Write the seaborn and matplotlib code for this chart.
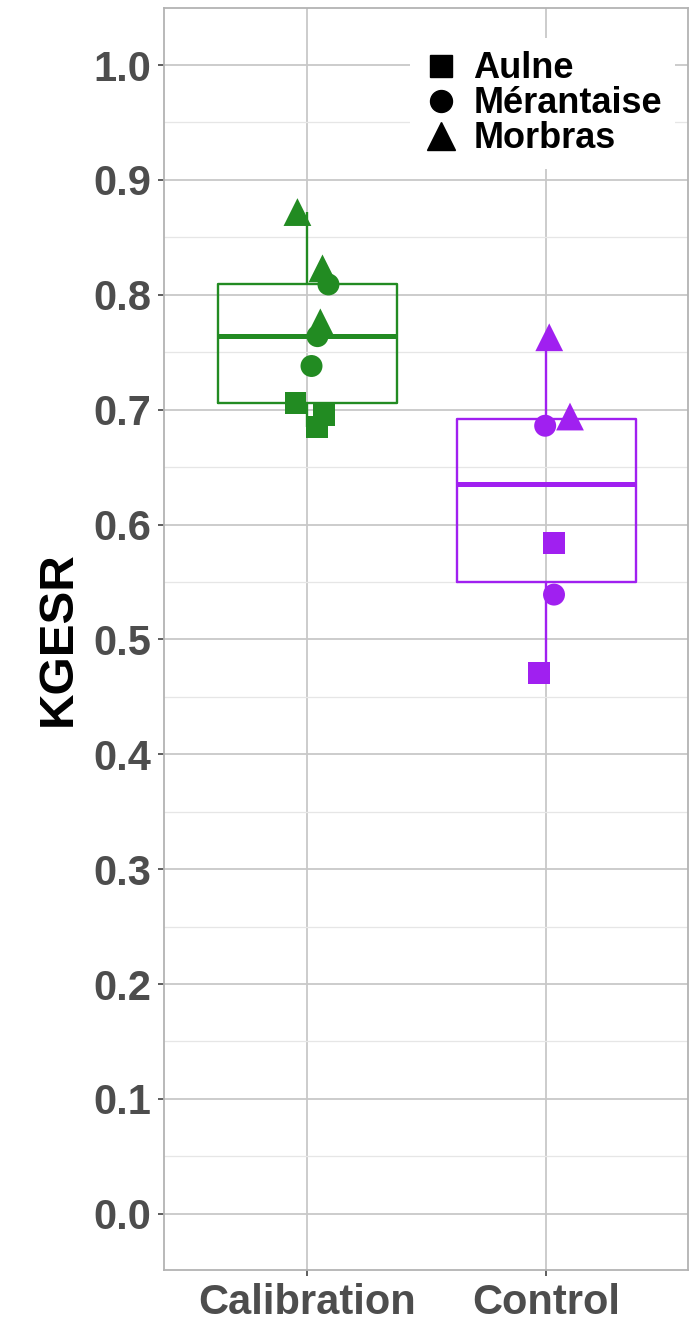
import pandas as pd
import seaborn as sns
import matplotlib.pyplot as plt
from matplotlib.lines import Line2D
from matplotlib.ticker import MultipleLocator, FormatStrFormatter

PERIODS = ["Calibration", "Control"]
CATCHMENTS = ["Aulne", "Mérantaise", "Morbras"]

# KGESR values
CALIBRATION_AULNE = [0.706, 0.695, 0.685]
CALIBRATION_MERANTAISE = [0.809, 0.764, 0.738]
CALIBRATION_MORBRAS = [0.872, 0.823, 0.776]
CONTROL_AULNE = [0.584, 0.471]
CONTROL_MERANTAISE = [0.686, 0.539]
CONTROL_MORBRAS = [0.763, 0.694]

# horizontal jitter of each point (in category units), same order as the values
JITTER_CALIBRATION = [-0.050, 0.071, 0.042, 0.088, 0.042, 0.017, -0.042, 0.063, 0.054]
JITTER_CONTROL = [0.033, -0.029, -0.004, 0.033, 0.013, 0.100]

COLORS = {"Calibration": "#228B22", "Control": "#A020F0"}
MARKERS = {"Aulne": "s", "Mérantaise": "o", "Morbras": "^"}
SIZES = {"Aulne": 250, "Mérantaise": 250, "Morbras": 400}

rows = []
values = {
    "Calibration": [CALIBRATION_AULNE, CALIBRATION_MERANTAISE, CALIBRATION_MORBRAS],
    "Control": [CONTROL_AULNE, CONTROL_MERANTAISE, CONTROL_MORBRAS],
}
jitter = {"Calibration": JITTER_CALIBRATION, "Control": JITTER_CONTROL}
for code, period in enumerate(PERIODS):
    offsets = iter(jitter[period])
    for catchment, vals in zip(CATCHMENTS, values[period]):
        for v in vals:
            rows.append({"period": period, "code": code, "catchment": catchment,
                         "kgesr": v, "xpos": code + next(offsets)})
df = pd.DataFrame(rows)

sns.set_style("white")
plt.rcParams["font.family"] = ["Liberation Sans", "DejaVu Sans"]

fig = plt.figure(figsize=(6.93, 13.22), dpi=100)
ax = fig.add_axes([0.237, 0.0393, 0.756, 0.9546])

sns.boxplot(data=df, x="code", y="kgesr", hue="period", palette=COLORS,
            native_scale=True, fill=False, dodge=False, width=0.75,
            showcaps=False, showfliers=False, whis=1.5, linewidth=1.7,
            medianprops={"linewidth": 3.6}, legend=False, ax=ax)

sns.scatterplot(data=df, x="xpos", y="kgesr", hue="period", palette=COLORS,
                style="catchment", markers=MARKERS, size="catchment", sizes=SIZES,
                linewidth=0, legend=False, zorder=5, ax=ax)

ax.set_xlim(-0.6, 1.595)
ax.set_ylim(-0.049, 1.0496)
ax.set_xticks([0, 1])
ax.set_xticklabels(PERIODS)
ax.yaxis.set_major_locator(MultipleLocator(0.1))
ax.yaxis.set_minor_locator(MultipleLocator(0.05))
ax.yaxis.set_major_formatter(FormatStrFormatter("%.1f"))

ax.set_axisbelow(True)
ax.grid(True, which="major", color="#c8c8c8", linewidth=1.3)
ax.grid(True, which="minor", axis="y", color="#e6e6e6", linewidth=0.9)
for sp in ax.spines.values():
    sp.set_color("#b3b3b3")
    sp.set_linewidth(1.3)

ax.tick_params(axis="both", which="major", length=4.3, width=1.1, color="#333333",
               labelsize=30, labelcolor="#4d4d4d", pad=5, left=True, bottom=True)
ax.tick_params(axis="y", which="minor", length=0)
for lab in ax.get_xticklabels() + ax.get_yticklabels():
    lab.set_fontweight("bold")

ax.set_xlabel("")
ax.set_ylabel("KGESR", fontsize=35.5, fontweight="bold", color="black", labelpad=9)

handles = [Line2D([], [], linestyle="", marker=MARKERS[c], color="black",
                  markersize=(20 if c == "Morbras" else 15.8)) for c in CATCHMENTS]
leg = ax.legend(handles, CATCHMENTS, loc="upper left", bbox_to_anchor=(0.469, 0.976),
                borderaxespad=0, borderpad=0.36, handlelength=1.0, handletextpad=0.39,
                labelspacing=0.0, frameon=True, facecolor="white", edgecolor="none",
                framealpha=1, labelcolor="black", prop={"weight": "bold", "size": 26})
leg.set_zorder(10)

fig.savefig("out.png", dpi=100)
